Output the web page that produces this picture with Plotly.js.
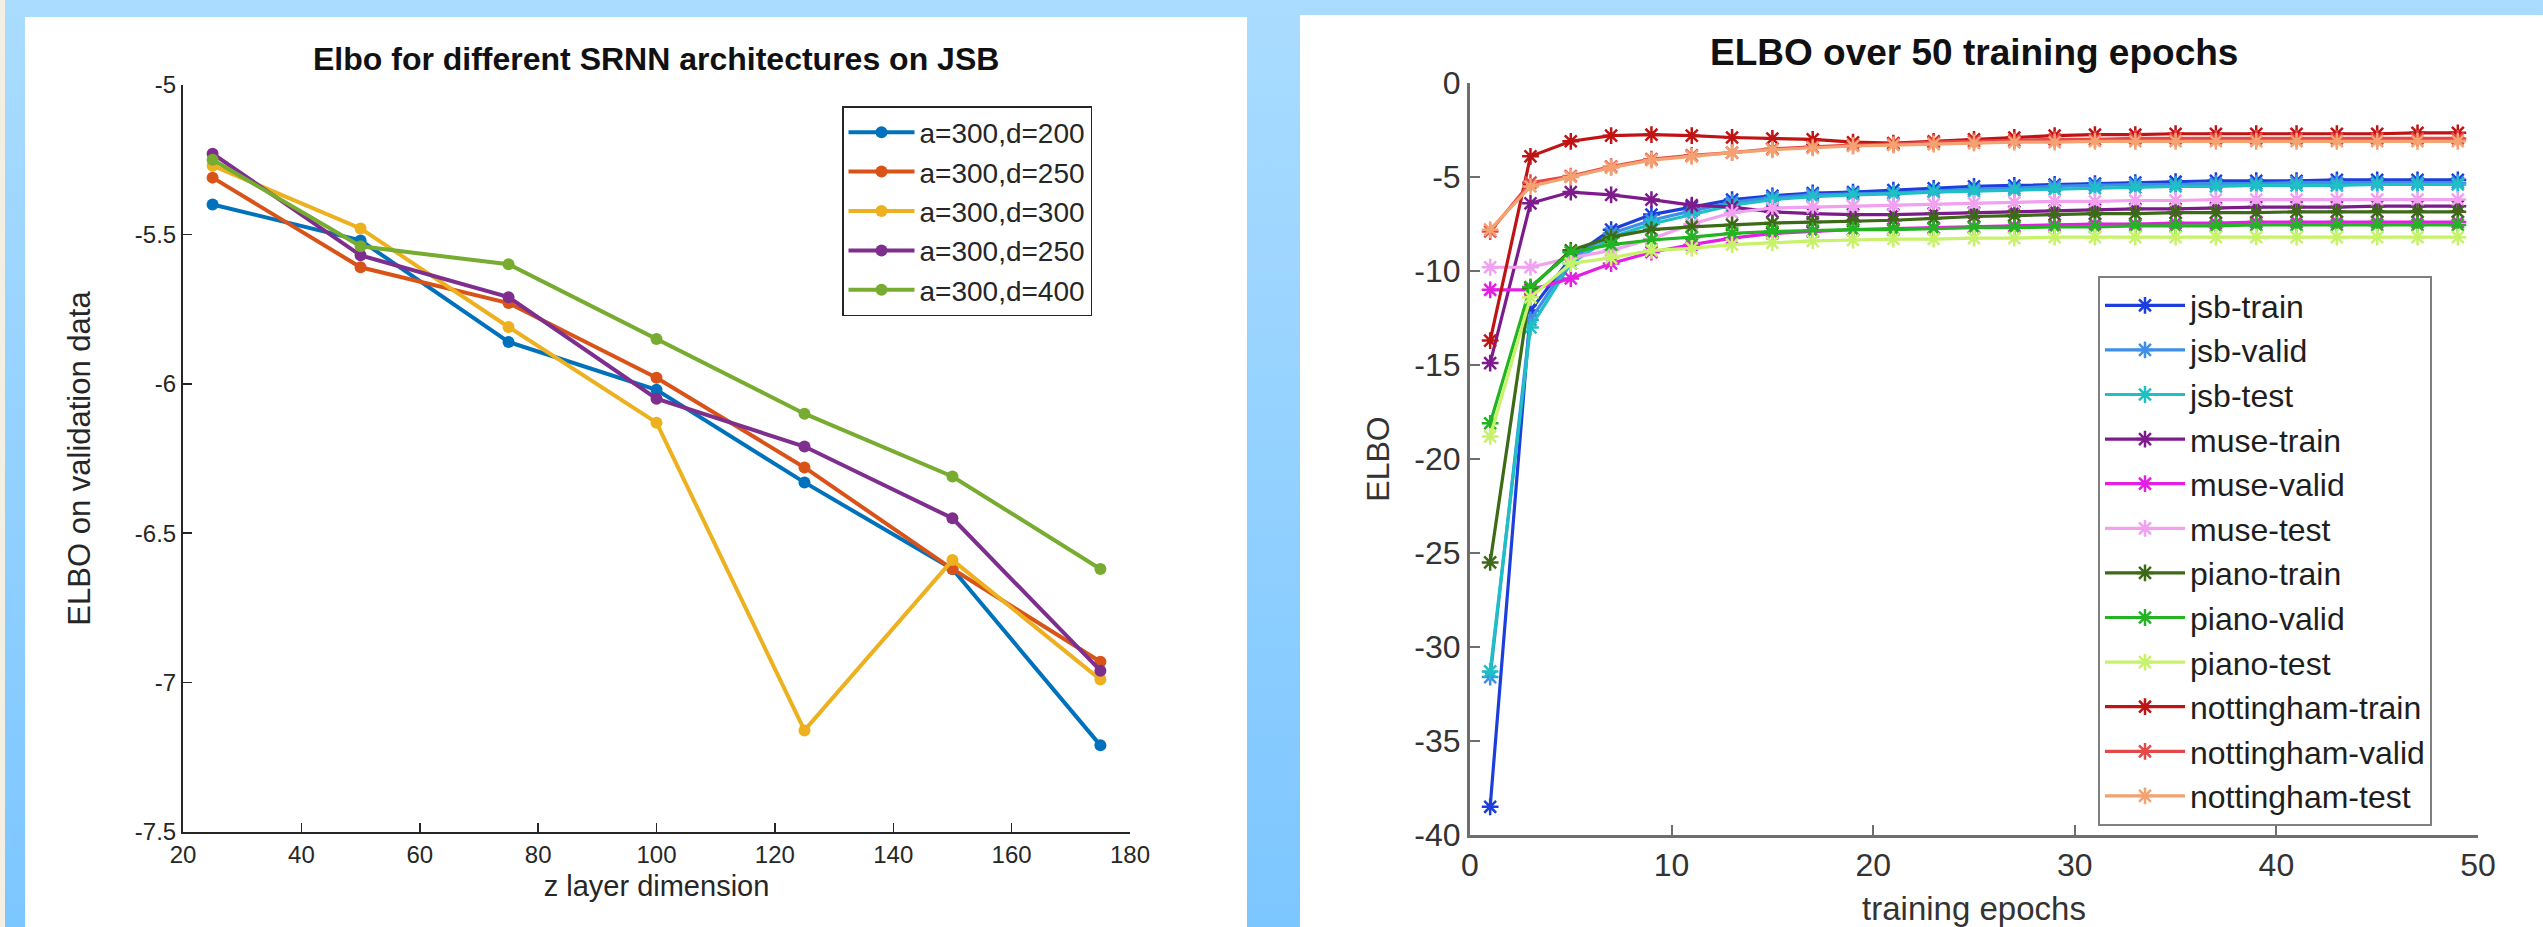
<!DOCTYPE html>
<html>
<head>
<meta charset="utf-8">
<script src="https://cdn.plot.ly/plotly-3.0.1.min.js"></script>
<style>
html,body{margin:0;padding:0;background:#a8dbff;overflow:hidden;}
#chart{width:2543px;height:927px;}
</style>
</head>
<body>
<div id="chart"></div>
<script>
// ---------- Left chart: ELBO vs z layer dimension ----------
const zDims = [25, 50, 75, 100, 125, 150, 175];
const archNames = ['a=300,d=200', 'a=300,d=250', 'a=300,d=300', 'a=300,d=250', 'a=300,d=400'];
const elboD200  = [-5.40, -5.52, -5.86, -6.02, -6.33, -6.62, -7.21];
const elboD250a = [-5.31, -5.61, -5.73, -5.98, -6.28, -6.62, -6.93];
const elboD300  = [-5.27, -5.48, -5.81, -6.13, -7.16, -6.59, -6.99];
const elboD250b = [-5.23, -5.57, -5.71, -6.05, -6.21, -6.45, -6.96];
const elboD400  = [-5.25, -5.54, -5.60, -5.85, -6.10, -6.31, -6.62];
const archColors = ['#0072BD', '#D95319', '#EDB120', '#7E2F8E', '#77AC30'];
const leftXTicks = [20, 40, 60, 80, 100, 120, 140, 160, 180];
const leftYTicks = [-7.5, -7, -6.5, -6, -5.5, -5];

// ---------- Right chart: ELBO over training epochs ----------
const epochs = [1,3,5,7,9,11,13,15,17,19,21,23,25,27,29,31,33,35,37,39,41,43,45,47,49];
const seriesNames = ['jsb-train','jsb-valid','jsb-test','muse-train','muse-valid','muse-test',
                     'piano-train','piano-valid','piano-test','nottingham-train','nottingham-valid','nottingham-test'];
const jsbTrain   = [-38.5,-12.1,-9.3,-7.8,-7.0,-6.6,-6.2,-6.0,-5.85,-5.8,-5.7,-5.6,-5.5,-5.45,-5.4,-5.35,-5.3,-5.25,-5.2,-5.2,-5.2,-5.15,-5.15,-5.15,-5.15];
const jsbValid   = [-31.6,-12.6,-9.4,-8.0,-7.3,-6.8,-6.35,-6.1,-5.95,-5.9,-5.85,-5.75,-5.65,-5.6,-5.5,-5.45,-5.4,-5.4,-5.35,-5.35,-5.3,-5.3,-5.3,-5.3,-5.3];
const jsbTest    = [-31.3,-13.0,-9.6,-8.2,-7.5,-7.0,-6.5,-6.2,-6.05,-5.95,-5.9,-5.8,-5.75,-5.7,-5.65,-5.6,-5.55,-5.5,-5.5,-5.45,-5.45,-5.45,-5.4,-5.4,-5.4];
const museTrain  = [-14.9,-6.4,-5.8,-5.95,-6.2,-6.5,-6.6,-6.85,-6.95,-7.0,-7.0,-6.95,-6.9,-6.85,-6.8,-6.75,-6.7,-6.7,-6.65,-6.6,-6.6,-6.6,-6.55,-6.55,-6.55];
const museValid  = [-11.0,-11.0,-10.4,-9.6,-9.0,-8.6,-8.25,-8.0,-7.9,-7.8,-7.75,-7.7,-7.65,-7.6,-7.55,-7.5,-7.5,-7.45,-7.45,-7.4,-7.4,-7.4,-7.4,-7.4,-7.4];
const museTest   = [-9.8,-9.8,-9.3,-8.9,-8.3,-7.5,-6.9,-6.65,-6.6,-6.55,-6.5,-6.45,-6.4,-6.35,-6.3,-6.3,-6.25,-6.25,-6.2,-6.2,-6.2,-6.2,-6.2,-6.2,-6.2];
const pianoTrain = [-25.5,-10.9,-8.9,-8.2,-7.8,-7.65,-7.55,-7.45,-7.4,-7.35,-7.3,-7.2,-7.1,-7.05,-7.0,-6.95,-6.95,-6.9,-6.9,-6.9,-6.85,-6.85,-6.85,-6.85,-6.85];
const pianoValid = [-18.1,-10.85,-9.0,-8.6,-8.35,-8.2,-8.0,-7.9,-7.85,-7.8,-7.8,-7.75,-7.7,-7.7,-7.65,-7.65,-7.6,-7.6,-7.6,-7.55,-7.55,-7.55,-7.55,-7.55,-7.55];
const pianoTest  = [-18.8,-11.4,-9.6,-9.3,-8.9,-8.8,-8.6,-8.5,-8.4,-8.35,-8.3,-8.3,-8.25,-8.25,-8.2,-8.2,-8.2,-8.2,-8.2,-8.2,-8.2,-8.2,-8.2,-8.2,-8.2];
const nottTrain  = [-13.7,-3.9,-3.1,-2.8,-2.75,-2.8,-2.9,-2.95,-3.0,-3.15,-3.2,-3.1,-3.0,-2.9,-2.8,-2.75,-2.75,-2.7,-2.7,-2.7,-2.7,-2.7,-2.7,-2.65,-2.65];
const nottValid  = [-7.9,-5.3,-4.95,-4.45,-4.05,-3.85,-3.7,-3.5,-3.4,-3.3,-3.25,-3.15,-3.1,-3.05,-3.0,-3.0,-2.95,-2.95,-2.95,-2.95,-2.95,-2.95,-2.95,-2.95,-2.95];
const nottTest   = [-7.8,-5.5,-5.0,-4.5,-4.1,-3.9,-3.7,-3.55,-3.45,-3.35,-3.3,-3.25,-3.2,-3.15,-3.15,-3.1,-3.1,-3.1,-3.1,-3.1,-3.1,-3.1,-3.1,-3.1,-3.1];
const seriesColors = ['#1c3fdc','#3f8fe6','#1fbfc6','#7d1b8c','#e41fe4','#f2a0f0',
                      '#3c6a17','#22b422','#c8f26a','#c01414','#e44848','#f4a272'];
const rightXTicks = [0, 10, 20, 30, 40, 50];
const rightYTicks = [-40, -35, -30, -25, -20, -15, -10, -5, 0];

// ---------- build ----------
const W = 2543, H = 927;
const FONT = 'Liberation Sans, Arial, Helvetica, sans-serif';
const INK = '#262626';
const px = v => v / W;
const py = v => 1 - v / H;

const leftSeries = [elboD200, elboD250a, elboD300, elboD250b, elboD400];
const rightSeries = [jsbTrain, jsbValid, jsbTest, museTrain, museValid, museTest,
                     pianoTrain, pianoValid, pianoTest, nottTrain, nottValid, nottTest];

const traces = [];
leftSeries.forEach((ys, i) => {
  traces.push({
    type: 'scatter', mode: 'lines+markers',
    x: zDims, y: ys, name: archNames[i],
    xaxis: 'x', yaxis: 'y', legend: 'legend',
    line: {color: archColors[i], width: 4},
    marker: {symbol: 'circle', size: 12, color: archColors[i]}
  });
});
rightSeries.forEach((ys, i) => {
  traces.push({
    type: 'scatter', mode: 'lines+markers',
    x: epochs, y: ys, name: seriesNames[i],
    xaxis: 'x2', yaxis: 'y2', legend: 'legend2',
    line: {color: seriesColors[i], width: 3.2},
    marker: {symbol: 'asterisk-open', size: 14, color: seriesColors[i],
             line: {color: seriesColors[i], width: 2.5}}
  });
});

const gradSvg = '<svg xmlns="http://www.w3.org/2000/svg" width="100" height="100" preserveAspectRatio="none">' +
  '<defs><linearGradient id="g" x1="0" y1="0" x2="0" y2="1">' +
  '<stop offset="0" stop-color="#aadcff"/><stop offset="1" stop-color="#7cc6ff"/>' +
  '</linearGradient></defs><rect width="100" height="100" fill="url(#g)"/></svg>';

const axCommon = {
  showgrid: false, zeroline: false, showline: true, ticks: 'inside',
  mirror: false, fixedrange: true
};

const layout = {
  width: W, height: H,
  margin: {l: 0, r: 0, t: 0, b: 0, pad: 0},
  paper_bgcolor: '#9fd6ff',
  plot_bgcolor: 'rgba(0,0,0,0)',
  font: {family: FONT, color: INK},
  showlegend: true,
  images: [{
    source: 'data:image/svg+xml;charset=utf-8,' + encodeURIComponent(gradSvg),
    xref: 'paper', yref: 'paper', x: 0, y: 1, sizex: 1, sizey: 1,
    xanchor: 'left', yanchor: 'top', sizing: 'stretch', layer: 'below'
  }],
  shapes: [
    {type: 'rect', xref: 'paper', yref: 'paper', x0: 0, x1: px(5), y0: 0, y1: 1,
     fillcolor: '#f3efe2', line: {width: 0}, layer: 'below'},
    {type: 'rect', xref: 'paper', yref: 'paper', x0: px(25), x1: px(1247), y0: 0, y1: py(17),
     fillcolor: '#ffffff', line: {width: 0}, layer: 'below'},
    {type: 'rect', xref: 'paper', yref: 'paper', x0: px(1300), x1: 1, y0: 0, y1: py(15),
     fillcolor: '#ffffff', line: {width: 0}, layer: 'below'}
  ],
  xaxis: Object.assign({}, axCommon, {
    domain: [px(183), px(1130)], range: [20, 180], anchor: 'y',
    tickvals: leftXTicks, ticktext: leftXTicks.map(String),
    ticklen: 9, tickwidth: 1.5, tickcolor: INK, linecolor: INK, linewidth: 2,
    tickfont: {size: 24, color: INK, family: FONT},
    title: {text: 'z layer dimension', font: {size: 29, color: INK, family: FONT}, standoff: 9}
  }),
  yaxis: Object.assign({}, axCommon, {
    domain: [1 - 832 / H, 1 - 85 / H], range: [-7.5, -5], anchor: 'x',
    tickvals: leftYTicks, ticktext: leftYTicks.map(String),
    ticklen: 9, tickwidth: 1.5, tickcolor: INK, linecolor: INK, linewidth: 2,
    tickfont: {size: 24, color: INK, family: FONT},
    title: {text: 'ELBO on validation data', font: {size: 31, color: INK, family: FONT}, standoff: 35}
  }),
  xaxis2: Object.assign({}, axCommon, {
    domain: [px(1470), px(2478)], range: [0, 50], anchor: 'y2',
    tickvals: rightXTicks, ticktext: rightXTicks.map(String),
    ticklen: 10, tickwidth: 2, tickcolor: '#6e6e6e', linecolor: '#6e6e6e', linewidth: 3,
    tickfont: {size: 32, color: '#333333', family: FONT},
    title: {text: 'training epochs', font: {size: 33, color: '#333333', family: FONT}, standoff: 22}
  }),
  yaxis2: Object.assign({}, axCommon, {
    domain: [1 - 835 / H, 1 - 83 / H], range: [-40, 0], anchor: 'x2',
    tickvals: rightYTicks, ticktext: rightYTicks.map(String),
    ticklen: 10, tickwidth: 2, tickcolor: '#6e6e6e', linecolor: '#6e6e6e', linewidth: 3,
    tickfont: {size: 32, color: '#333333', family: FONT},
    title: {text: 'ELBO', font: {size: 32, color: '#333333', family: FONT}, standoff: 16}
  }),
  legend: {
    xref: 'paper', yref: 'paper', x: px(842), y: py(106), xanchor: 'left', yanchor: 'top',
    bgcolor: '#ffffff', bordercolor: INK, borderwidth: 1.5,
    font: {size: 28, color: INK, family: FONT}, itemwidth: 66, tracegroupgap: 0
  },
  legend2: {
    xref: 'paper', yref: 'paper', x: px(2098), y: py(276), xanchor: 'left', yanchor: 'top',
    bgcolor: '#ffffff', bordercolor: '#808080', borderwidth: 2,
    font: {size: 32, color: '#1e1e1e', family: FONT}, itemwidth: 80, tracegroupgap: 0
  },
  annotations: [
    {text: '<b>Elbo for different SRNN architectures on JSB</b>', xref: 'paper', yref: 'paper',
     x: px(656), y: py(59), xanchor: 'center', yanchor: 'middle', showarrow: false,
     font: {size: 32, color: '#111111', family: FONT}},
    {text: '<b>ELBO over 50 training epochs</b>', xref: 'paper', yref: 'paper',
     x: px(1974), y: py(52), xanchor: 'center', yanchor: 'middle', showarrow: false,
     font: {size: 37, color: '#111111', family: FONT}}
  ]
};

Plotly.newPlot('chart', traces, layout, {staticPlot: true, displayModeBar: false});
</script>
</body>
</html>
